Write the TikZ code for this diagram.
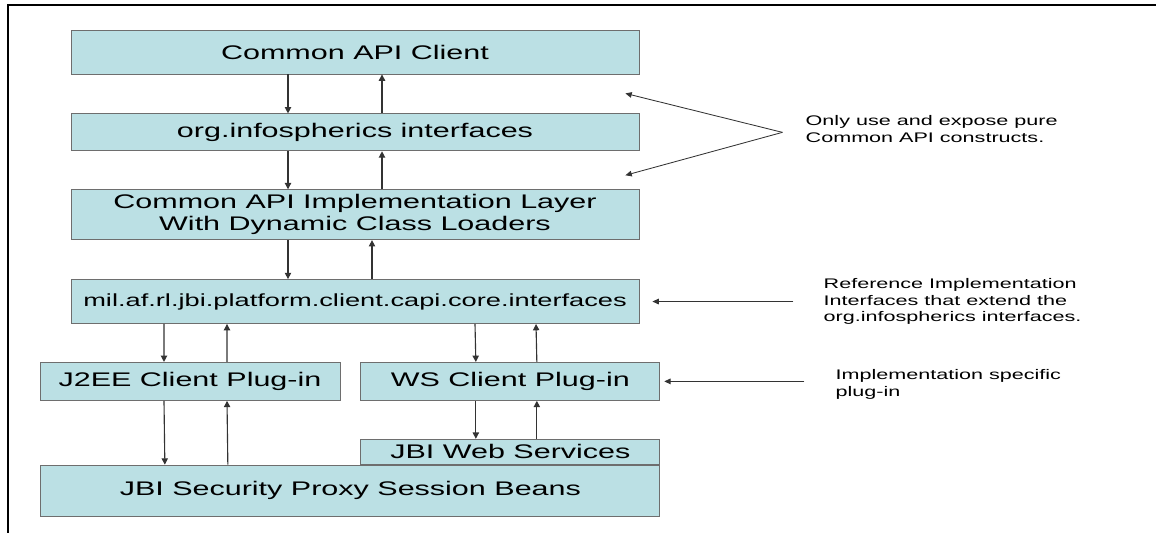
\documentclass[tikz,border=0pt]{standalone}
\usepackage{fontspec}
\setmainfont{Liberation Sans}[FakeStretch=1.55]
\usetikzlibrary{positioning}
\usetikzlibrary{arrows.meta}

\definecolor{layerblue}{RGB}{187,224,228}
\definecolor{layerline}{RGB}{110,110,110}

\begin{document}
\begin{tikzpicture}[
  layer/.style={draw=layerline, fill=layerblue, line width=0.6pt, inner sep=0pt,
    align=center, minimum width=14.2cm, font=\fontsize{14}{15.6}\selectfont},
  flow/.style={draw=black!80, line width=0.8pt, -{Triangle[length=4.5pt,width=4.5pt]}},
  hint/.style={draw=black!80, line width=0.6pt, -{Triangle[length=4.5pt,width=4pt]}},
  note/.style={align=left, inner sep=0pt, font=\fontsize{9.9}{11.6}\selectfont},
]

\useasboundingbox (0,0) rectangle (28.9,-13.325);
\draw[line width=2pt] (28.9,-0.125) -| (0.2,-13.325);

\node[layer, minimum height=1.1cm] (api-client) at (8.875,-1.3) {Common API Client};
\node[layer, minimum height=0.925cm, below=0.975 of api-client] (org-if) {org.infospherics interfaces};
\node[layer, minimum height=1.25cm, below=0.95 of org-if] (api-impl) {Common API Implementation Layer\\With Dynamic Class Loaders};
\node[layer, minimum height=1.1cm, below=0.975 of api-impl, font=\fontsize{12.5}{14}\selectfont] (mil-if) {mil.af.rl.jbi.platform.client.capi.core.interfaces};

\node[layer, minimum width=7.5cm, minimum height=0.95cm, below=0.95 of mil-if.south west, anchor=north west, xshift=-0.775cm] (j2ee) {J2EE Client Plug-in};
\node[layer, minimum width=7.475cm, minimum height=0.95cm, right=0.5 of j2ee] (ws) {WS Client Plug-in};
\node[layer, minimum width=7.475cm, minimum height=0.625cm, below=0.95 of ws] (jbi-ws) {JBI Web Services};
\node[layer, minimum width=15.475cm, minimum height=1.275cm, below=0 of jbi-ws.south east, anchor=north east] (jbi-proxy) {JBI Security Proxy Session Beans};

% calls down, results up
\draw[flow] ([xshift=-1.675cm]api-client.south) -- ([xshift=-1.675cm]org-if.north);
\draw[flow] ([xshift=0.675cm]org-if.north) -- ([xshift=0.675cm]api-client.south);
\draw[flow] ([xshift=-1.675cm]org-if.south) -- ([xshift=-1.675cm]api-impl.north);
\draw[flow] ([xshift=0.675cm]api-impl.north) -- ([xshift=0.675cm]org-if.south);
\draw[flow] ([xshift=-1.675cm]api-impl.south) -- ([xshift=-1.675cm]mil-if.north);
\draw[flow] ([xshift=0.425cm]mil-if.north) -- ([xshift=0.425cm]api-impl.south);

\draw[flow] ([xshift=-4.775cm]mil-if.south) -- ([xshift=-0.65cm]j2ee.north);
\draw[flow] ([xshift=0.925cm]j2ee.north) -- ([xshift=-3.2cm]mil-if.south);
\draw[flow] ([xshift=3cm]mil-if.south) -- ([xshift=-0.8625cm]ws.north);
\draw[flow] ([xshift=0.6625cm]ws.north) -- ([xshift=4.525cm]mil-if.south);

\draw[flow] ([xshift=-0.65cm]j2ee.south) -- ([xshift=-4.6375cm]jbi-proxy.north);
\draw[flow] ([xshift=-3.0625cm]jbi-proxy.north) -- ([xshift=0.925cm]j2ee.south);
\draw[flow] ([xshift=-0.8625cm]ws.south) -- ([xshift=-0.8625cm]jbi-ws.north);
\draw[flow] ([xshift=0.6625cm]jbi-ws.north) -- ([xshift=0.6625cm]ws.south);

% side notes
\coordinate[right=3.575 of org-if] (hint-a);
\coordinate[below=0.475 of api-client.south east, xshift=-0.35cm] (hint-a1);
\coordinate[above=0.35 of api-impl.north east, xshift=-0.35cm] (hint-a2);
\node[note, right=0.575 of hint-a, yshift=0.08cm] (note-a) {Only use and expose pure\\Common API constructs.};
\draw[hint] (hint-a) -- (hint-a1);
\draw[hint] (hint-a) -- (hint-a2);

\coordinate[right=3.85 of mil-if] (hint-b);
\coordinate[right=0.325 of mil-if] (hint-b1);
\node[note, right=0.75 of hint-b] (note-b) {Reference Implementation\\Interfaces that extend the\\org.infospherics interfaces.};
\draw[hint] (hint-b) -- (hint-b1);

\coordinate[right=3.6 of ws] (hint-c);
\coordinate[right=0.1 of ws] (hint-c1);
\node[note, right=0.775 of hint-c, yshift=-0.075cm] (note-c) {Implementation specific\\plug-in};
\draw[hint] (hint-c) -- (hint-c1);

\end{tikzpicture}
\end{document}
